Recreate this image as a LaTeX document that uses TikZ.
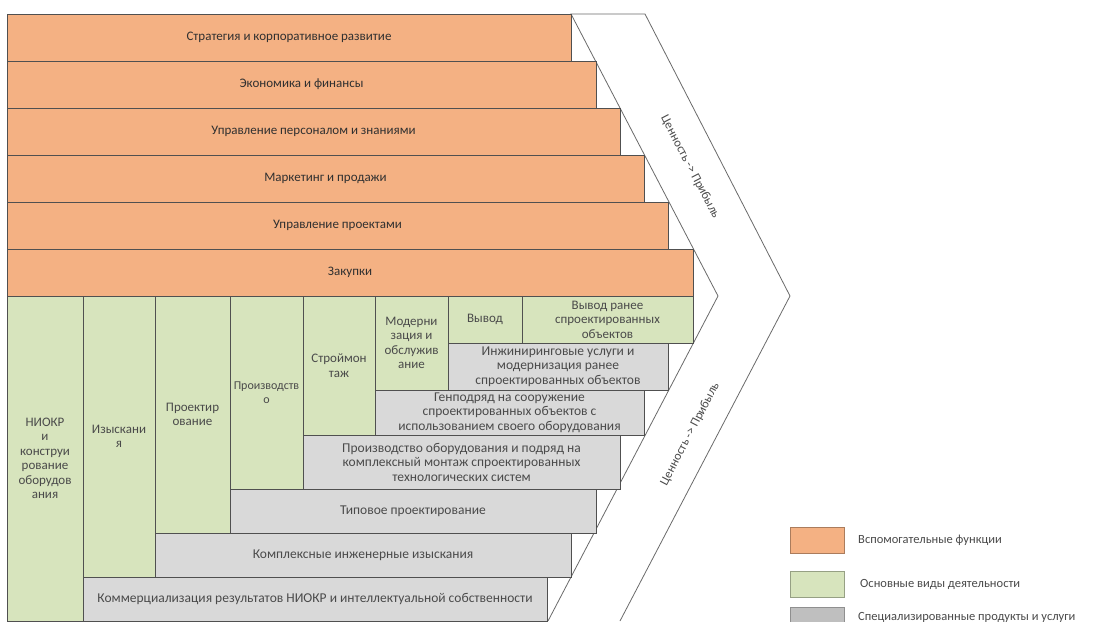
\documentclass[tikz,border=0pt]{standalone}
\usepackage{fontspec}
\setmainfont{Carlito}
\definecolor{orangef}{HTML}{F4B183}
\definecolor{greenf}{HTML}{D7E4BD}
\definecolor{greyf}{HTML}{D9D9D9}
\definecolor{legrey}{HTML}{BFBFBF}
\definecolor{edgec}{HTML}{505050}
\definecolor{txtdark}{HTML}{303030}
\definecolor{txtgrey}{HTML}{4A4A4A}
\definecolor{chevc}{HTML}{6A6A6A}
\tikzset{
  cell/.style={draw=edgec, line width=0.8pt, inner sep=0pt, outer sep=0pt,
    anchor=north west, align=center, text=txtgrey,
    font=\fontsize{13}{14.5}\selectfont},
  supbox/.style={cell, fill=orangef, text=txtdark},
  corebox/.style={cell, fill=greenf},
  specbox/.style={cell, fill=greyf, font=\fontsize{13.5}{14.5}\selectfont},
  chevline/.style={draw=chevc, line width=0.8pt, line join=miter},
  chevtext/.style={text=txtgrey, font=\fontsize{12.5}{14}\selectfont, inner sep=0pt},
  legbox/.style={line width=0.8pt, inner sep=0pt, outer sep=0pt, anchor=north west,
    minimum width=54pt, minimum height=26pt},
  legtext/.style={anchor=west, text=txtgrey, font=\fontsize{12.5}{14}\selectfont, inner sep=0pt}
}
\begin{document}
\begin{tikzpicture}[x=1pt,y=-1pt]
\useasboundingbox (0,0) rectangle (1097,621);
\fill[white] (0,0) rectangle (1097,621);

% chevron
\coordinate (i1) at (571,14);
\coordinate (i2) at (718,296);
\coordinate (i3) at (548,621);
\coordinate (o1) at (645,14);
\coordinate (o2) at (790,296);
\coordinate (o3) at (620,621);
\draw[chevline] (i3) -- (i2) -- (i1) -- (o1) -- (o2) -- (o3);
\node[chevtext, rotate=-62.5] (vtop) at (690,167) {Ценность -> Прибыль};
\node[chevtext, rotate=62.5] (vbot) at (690,434) {Ценность -> Прибыль};

% support functions
\node[supbox, minimum width=564pt, minimum height=47pt] (b1) at (7,14) {Стратегия и корпоративное развитие};
\node[supbox, minimum width=589pt, minimum height=47pt] (b2) at (7,61) {Экономика и финансы};
\node[supbox, minimum width=613pt, minimum height=47pt] (b3) at (7,108) {Управление персоналом и знаниями};
\node[supbox, minimum width=637pt, minimum height=47pt] (b4) at (7,155) {Маркетинг и продажи};
\node[supbox, minimum width=661pt, minimum height=47pt] (b5) at (7,202) {Управление проектами};
\node[supbox, minimum width=686pt, minimum height=47pt] (b6) at (7,249) {Закупки};

% core activities
\node[corebox, minimum width=76pt, minimum height=325pt] (c1) at (7,296) {НИОКР\\и\\конструи\\рование\\оборудов\\ания};
\node[corebox, minimum width=72pt, minimum height=281pt] (c2) at (83,296) {Изыскани\\я};
\node[corebox, minimum width=75pt, minimum height=237pt] (c3) at (155,296) {Проектир\\ование};
\node[corebox, minimum width=73pt, minimum height=193pt, font=\fontsize{12}{14.5}\selectfont] (c4) at (230,296) {Производств\\о};
\node[corebox, minimum width=72pt, minimum height=139pt] (c5) at (303,296) {Строймон\\таж};
\node[corebox, minimum width=73pt, minimum height=94pt] (c6) at (375,296) {Модерни\\зация и\\обслужив\\ание};
\node[corebox, minimum width=74pt, minimum height=47pt] (c7) at (448,296) {Вывод};
\node[corebox, minimum width=171pt, minimum height=47pt] (c8) at (522,296) {Вывод ранее\\спроектированных\\объектов};

% specialised products
\node[specbox, minimum width=220pt, minimum height=47pt] (s1) at (448,343) {Инжиниринговые услуги и\\модернизация ранее\\спроектированных объектов};
\node[specbox, minimum width=269pt, minimum height=45pt] (s2) at (375,390) {Генподряд на сооружение\\спроектированных объектов с\\использованием своего оборудования};
\node[specbox, minimum width=317pt, minimum height=54pt] (s3) at (303,435) {Производство оборудования и подряд на\\комплексный монтаж спроектированных\\технологических систем};
\node[specbox, minimum width=366pt, minimum height=44pt] (s4) at (230,489) {Типовое проектирование};
\node[specbox, minimum width=416pt, minimum height=44pt] (s5) at (155,533) {Комплексные инженерные изыскания};
\node[specbox, minimum width=464pt, minimum height=44pt] (s6) at (83,577) {Коммерциализация результатов НИОКР и интеллектуальной собственности};

% legend
\node[legbox, fill=orangef, draw=orangef!70!black] (l1) at (790,527) {};
\node[legtext] (t1) at (858,540) {Вспомогательные функции};
\node[legbox, fill=greenf, draw=greenf!70!black] (l2) at (790,571) {};
\node[legtext] (t2) at (860,584) {Основные виды деятельности};
\node[legbox, fill=legrey, draw=legrey!75!black] (l3) at (790,607) {};
\node[legtext] (t3) at (858,617) {Специализированные продукты и услуги};
\end{tikzpicture}
\end{document}
